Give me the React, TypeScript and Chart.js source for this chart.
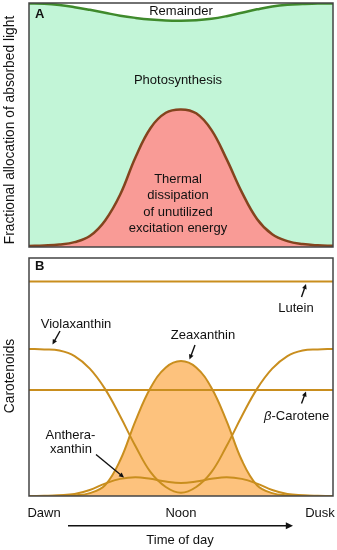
import React, { useEffect, useRef } from "react";
import { Chart, registerables } from "chart.js";

Chart.register(...registerables);

// Time of day, 0 = dawn, 0.5 = noon, 1 = dusk
const timeOfDay = [0, 0.05, 0.1, 0.15, 0.2, 0.25, 0.3, 0.35, 0.4, 0.45, 0.5, 0.55, 0.6, 0.65, 0.7, 0.75, 0.8, 0.85, 0.9, 0.95, 1];

// Panel A: fractional allocation of absorbed light
const remainderBoundary = [0.998, 0.997, 0.992, 0.983, 0.972, 0.96, 0.948, 0.939, 0.932, 0.928, 0.927, 0.929, 0.935, 0.946, 0.96, 0.974, 0.986, 0.993, 0.996, 0.998, 0.998];
const thermalDissipation = [0.004, 0.006, 0.01, 0.02, 0.045, 0.108, 0.215, 0.367, 0.488, 0.55, 0.564, 0.548, 0.48, 0.36, 0.225, 0.115, 0.052, 0.024, 0.012, 0.007, 0.005];

// Panel B: carotenoids
const lutein = [0.901, 0.901, 0.901, 0.901, 0.901, 0.901, 0.901, 0.901, 0.901, 0.901, 0.901, 0.901, 0.901, 0.901, 0.901, 0.901, 0.901, 0.901, 0.901, 0.901, 0.901];
const betaCarotene = [0.445, 0.445, 0.445, 0.445, 0.445, 0.445, 0.445, 0.445, 0.445, 0.445, 0.445, 0.445, 0.445, 0.445, 0.445, 0.445, 0.445, 0.445, 0.445, 0.445, 0.445];
const violaxanthin = [0.618, 0.616, 0.611, 0.588, 0.535, 0.45, 0.335, 0.21, 0.1, 0.038, 0.014, 0.038, 0.1, 0.21, 0.335, 0.45, 0.535, 0.588, 0.611, 0.616, 0.618];
const zeaxanthin = [0.0, 0.0, 0.001, 0.003, 0.012, 0.045, 0.15, 0.315, 0.455, 0.54, 0.567, 0.54, 0.455, 0.315, 0.15, 0.045, 0.012, 0.003, 0.001, 0.0, 0.0];
const antheraxanthin = [0.0, 0.001, 0.003, 0.008, 0.025, 0.052, 0.072, 0.079, 0.072, 0.061, 0.055, 0.061, 0.072, 0.079, 0.072, 0.052, 0.025, 0.008, 0.003, 0.001, 0.0];

const timeLabels = ["Dawn", "Noon", "Dusk"];

const FONT = '"Liberation Sans", Arial, sans-serif';

const pts = (ys: number[]) => timeOfDay.map((x, i) => ({ x, y: ys[i] }));

function arrow(ctx: CanvasRenderingContext2D, x1: number, y1: number, x2: number, y2: number, head = 5.5) {
  const a = Math.atan2(y2 - y1, x2 - x1);
  ctx.save();
  ctx.strokeStyle = "#111";
  ctx.fillStyle = "#111";
  ctx.lineWidth = 1.4;
  ctx.beginPath();
  ctx.moveTo(x1, y1);
  ctx.lineTo(x2 - Math.cos(a) * head * 0.8, y2 - Math.sin(a) * head * 0.8);
  ctx.stroke();
  ctx.beginPath();
  ctx.moveTo(x2, y2);
  ctx.lineTo(x2 - head * Math.cos(a - 0.45), y2 - head * Math.sin(a - 0.45));
  ctx.lineTo(x2 - head * Math.cos(a + 0.45), y2 - head * Math.sin(a + 0.45));
  ctx.closePath();
  ctx.fill();
  ctx.restore();
}

function text(ctx: CanvasRenderingContext2D, s: string, x: number, y: number, size = 13, weight = "normal", align: CanvasTextAlign = "center") {
  ctx.font = `${weight} ${size}px ${FONT}`;
  ctx.textAlign = align;
  ctx.textBaseline = "middle";
  ctx.fillStyle = "#111";
  ctx.fillText(s, x, y);
}

function vtext(ctx: CanvasRenderingContext2D, s: string, x: number, y: number, size = 13.8) {
  ctx.save();
  ctx.translate(x, y);
  ctx.rotate(-Math.PI / 2);
  text(ctx, s, 0, 0, size);
  ctx.restore();
}

const baseScales = {
  x: { type: "linear" as const, min: 0, max: 1, display: false },
  y: { type: "linear" as const, min: 0, max: 1, display: false },
};

export default function App() {
  const refA = useRef<HTMLCanvasElement>(null);
  const refB = useRef<HTMLCanvasElement>(null);

  useEffect(() => {
    const frame = (chart: any) => {
      const { ctx, chartArea: a } = chart;
      ctx.save();
      ctx.strokeStyle = "#444";
      ctx.lineWidth = 1.5;
      ctx.strokeRect(a.left, a.top, a.right - a.left, a.bottom - a.top);
      ctx.restore();
    };

    const chartA = new Chart(refA.current!, {
      type: "line",
      data: {
        datasets: [
          {
            data: pts(remainderBoundary),
            borderColor: "#3f8a2c",
            borderWidth: 2.5,
            backgroundColor: "#ffffff",
            fill: "end",
          },
          {
            data: pts(thermalDissipation),
            borderColor: "#84441e",
            borderWidth: 2.5,
            backgroundColor: "#f99b96",
            fill: "origin",
          },
        ],
      },
      options: {
        animation: false,
        responsive: false,
        devicePixelRatio: 1,
        layout: { padding: { left: 29, right: 4, top: 3, bottom: 3 } },
        elements: { point: { radius: 0 }, line: { tension: 0.4 } },
        plugins: { legend: { display: false }, tooltip: { enabled: false }, filler: { drawTime: "beforeDatasetsDraw" } },
        scales: baseScales,
      },
      plugins: [
        {
          id: "panelA",
          beforeDraw(chart: any) {
            const { ctx, chartArea: a } = chart;
            ctx.save();
            ctx.fillStyle = "#c2f5d7";
            ctx.fillRect(a.left, a.top, a.right - a.left, a.bottom - a.top);
            ctx.restore();
          },
          afterDraw(chart: any) {
            const ctx = chart.ctx;
            frame(chart);
            text(ctx, "A", 35, 14.5, 13, "bold", "left");
            text(ctx, "Remainder", 181, 11);
            text(ctx, "Photosynthesis", 178, 80.5);
            text(ctx, "Thermal", 178, 179.5);
            text(ctx, "dissipation", 178, 195.5);
            text(ctx, "of unutilized", 178, 212);
            text(ctx, "excitation energy", 178, 228);
            vtext(ctx, "Fractional allocation of absorbed light", 10.5, 130);
          },
        },
      ],
    } as any);

    const orange = "#c98e1e";
    const lineDs = (d: number[], extra: any = {}) => ({
      data: pts(d),
      borderColor: orange,
      borderWidth: 2,
      fill: false,
      ...extra,
    });

    const chartB = new Chart(refB.current!, {
      type: "line",
      data: {
        datasets: [
          lineDs(zeaxanthin, { fill: "origin", backgroundColor: "#fdc27d" }),
          lineDs(lutein),
          lineDs(betaCarotene),
          lineDs(violaxanthin),
          lineDs(antheraxanthin),
        ],
      },
      options: {
        animation: false,
        responsive: false,
        devicePixelRatio: 1,
        layout: { padding: { left: 29, right: 4, top: 8, bottom: 54 } },
        elements: { point: { radius: 0 }, line: { tension: 0.4 } },
        plugins: { legend: { display: false }, tooltip: { enabled: false }, filler: { drawTime: "beforeDatasetsDraw" } },
        scales: baseScales,
      },
      plugins: [
        {
          id: "panelB",
          afterDraw(chart: any) {
            const ctx = chart.ctx;
            const o = 250;
            frame(chart);
            text(ctx, "B", 35, 266 - o, 13, "bold", "left");
            text(ctx, "Lutein", 296, 308 - o);
            arrow(ctx, 301.5, 297 - o, 306, 284 - o);
            text(ctx, "Violaxanthin", 76, 324.5 - o);
            arrow(ctx, 60, 331 - o, 52.5, 344.5 - o);
            text(ctx, "Zeaxanthin", 203, 335.5 - o);
            arrow(ctx, 195, 345 - o, 189.5, 359.5 - o);
            // β-Carotene with italic beta
            const rest = "-Carotene";
            ctx.font = `italic 13px ${FONT}`;
            const bw = ctx.measureText("β").width;
            ctx.font = `13px ${FONT}`;
            const rw = ctx.measureText(rest).width;
            const startX = 296.7 - (bw + rw) / 2;
            text(ctx, "β", startX, 416 - o, 13, "italic", "left");
            text(ctx, rest, startX + bw, 416 - o, 13, "normal", "left");
            arrow(ctx, 301.5, 403.5 - o, 306, 391.5 - o);
            text(ctx, "Anthera-", 70.5, 435 - o);
            text(ctx, "xanthin", 71, 449.5 - o);
            arrow(ctx, 96, 454.5 - o, 124, 477.5 - o);
            // time axis
            const xs = chart.scales.x;
            const lx = [44, xs.getPixelForValue(0.5), 320];
            timeLabels.forEach((s, i) => text(ctx, s, lx[i], 513 - o));
            arrow(ctx, 68, 525.7 - o, 293, 525.7 - o, 8);
            text(ctx, "Time of day", 180, 540 - o);
            vtext(ctx, "Carotenoids", 10.5, 376 - o);
          },
        },
      ],
    } as any);

    return () => {
      chartA.destroy();
      chartB.destroy();
    };
  }, []);

  return (
    <div style={{ position: "absolute", left: 0, top: 0, width: 337, height: 550, background: "#fff" }}>
      <canvas ref={refA} width={337} height={250} style={{ position: "absolute", left: 0, top: 0 }} />
      <canvas ref={refB} width={337} height={300} style={{ position: "absolute", left: 0, top: 250 }} />
    </div>
  );
}
